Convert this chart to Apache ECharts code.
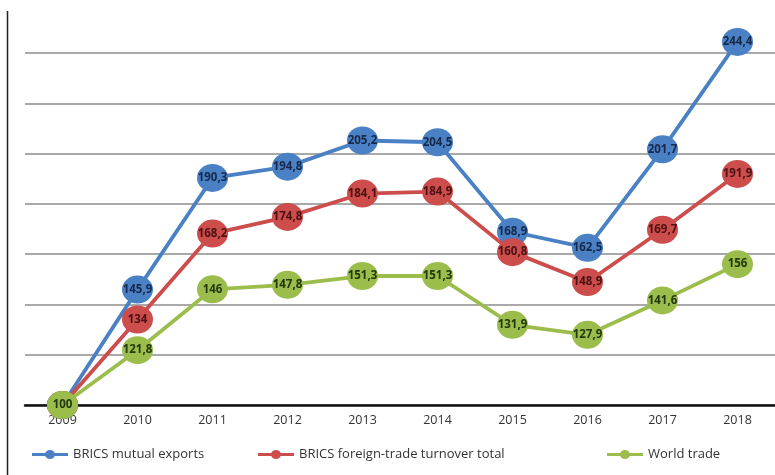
<!DOCTYPE html>
<html>
<head>
<meta charset="utf-8">
<script src="https://cdn.jsdelivr.net/npm/echarts@6/dist/echarts.min.js"></script>
<style>html,body{margin:0;padding:0;background:#fff}#c{width:775px;height:475px}</style>
</head>
<body>
<div id="c"></div>
<script>
const years = ['2009','2010','2011','2012','2013','2014','2015','2016','2017','2018'];
const bricsExports = [100, 145.9, 190.3, 194.8, 205.2, 204.5, 168.9, 162.5, 201.7, 244.4];
const bricsTurnover = [100, 134, 168.2, 174.8, 184.1, 184.9, 160.8, 148.9, 169.7, 191.9];
const worldTrade = [100, 121.8, 146, 147.8, 151.3, 151.3, 131.9, 127.9, 141.6, 156];
const seriesNames = ['BRICS mutual exports', 'BRICS foreign-trade turnover total', 'World trade'];
const colors = ['#4a80c4', '#cd4c4c', '#9bbd4c'];
const labelColors = ['#17284a', '#4a1212', '#23380c'];

const fmt = v => String(v).replace('.', ',');
const font = '"Open Sans", "Noto Sans", sans-serif';

function mkSeries(name, data, i) {
  return {
    name: name,
    type: 'line',
    data: data,
    clip: false,
    symbol: 'circle',
    symbolSize: [31, 28],
    z: 2 + i,
    lineStyle: { color: colors[i], width: 3.8 },
    itemStyle: { color: colors[i] },
    label: {
      show: true,
      position: 'inside',
      formatter: p => fmt(p.value),
      color: labelColors[i],
      fontFamily: font,
      fontWeight: 'bold',
      fontSize: 11.5
    },
    emphasis: { disabled: true },
    animation: false
  };
}

const legendIcon = 'path://M0,3L14,3L14,6L0,6Z M22,3L36,3L36,6L22,6Z M13,4.5A5,4.5 0 1 1 23,4.5A5,4.5 0 1 1 13,4.5Z';

const chart = echarts.init(document.getElementById('c'));
const legendBase = {
  top: 443,
  itemWidth: 36,
  itemHeight: 9,
  textStyle: { fontFamily: font, fontSize: 13, color: '#333' },
  selectedMode: false
};
chart.setOption({
  animation: false,
  grid: { left: 25, right: 0, top: 53, bottom: 70 },
  xAxis: {
    type: 'category',
    data: years,
    boundaryGap: true,
    axisLine: { lineStyle: { color: '#111', width: 2.5 } },
    axisTick: { show: false },
    axisLabel: { color: '#333', fontFamily: font, fontSize: 12.5, margin: 9 }
  },
  yAxis: {
    type: 'value',
    min: 100,
    max: 240,
    interval: 20,
    axisLine: { show: false },
    axisTick: { show: false },
    axisLabel: { show: false },
    splitLine: { lineStyle: { color: '#8c8c8c', width: 1.5 } }
  },
  legend: [
    Object.assign({}, legendBase, { left: 27, data: [{ name: seriesNames[0], icon: legendIcon }] }),
    Object.assign({}, legendBase, { left: 253, data: [{ name: seriesNames[1], icon: legendIcon }] }),
    Object.assign({}, legendBase, { left: 602, data: [{ name: seriesNames[2], icon: legendIcon }] })
  ],
  graphic: [
    { type: 'line', shape: { x1: 7.5, y1: 11, x2: 7.5, y2: 475 }, style: { stroke: '#222', lineWidth: 1.5 } }
  ],
  series: [
    mkSeries(seriesNames[0], bricsExports, 0),
    mkSeries(seriesNames[1], bricsTurnover, 1),
    mkSeries(seriesNames[2], worldTrade, 2)
  ]
});
</script>
</body>
</html>
